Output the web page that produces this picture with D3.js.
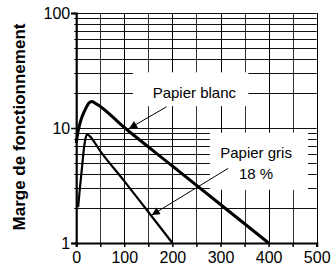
<!DOCTYPE html>
<html>
<head>
<meta charset="utf-8">
<script src="https://cdn.jsdelivr.net/npm/d3@7"></script>
<style>
  body { margin: 0; background: #fff; }
  svg { display: block; }
  .tick-label { font-family: "Liberation Sans Narrow", "Arial Narrow", "Liberation Sans", Arial, sans-serif; font-size: 16px; fill: #000; }
  .note { font-family: "Liberation Sans", Arial, sans-serif; font-size: 15px; fill: #000; }
</style>
</head>
<body>
<div id="chart"></div>
<script>
// data
const xTicks = [0, 100, 200, 300, 400, 500];
const xGrid = [0, 50, 100, 150, 200, 250, 300, 350, 400, 450, 500];
const yTicks = [1, 10, 100];
const yGrid = [1, 2, 3, 4, 5, 6, 7, 8, 9, 10, 20, 30, 40, 50, 60, 70, 80, 90, 100];

const blancX = [0, 2, 5, 10, 15, 20, 25, 32, 40, 100, 200, 300, 400];
const blancY = [7.4, 8.4, 9.8, 11.8, 13.4, 14.8, 16.2, 17, 16.4, 10.1, 4.67, 2.16, 1];

const grisX = [4, 8, 12, 16, 19, 23, 28, 50, 100, 150, 200];
const grisY = [2.05, 3.1, 4.5, 6.6, 8.0, 8.8, 8.5, 6.3, 3.45, 1.86, 1];

// annotation arrows: [fromX, fromY, toX, toY]
const blancArrow = [188, 15.3, 110, 9.9];
const grisArrow = [316, 4.46, 157, 1.75];

const W = 333, H = 270;
const x = d3.scaleLinear().domain([0, 500]).range([76.2, 316.7]);
const y = d3.scaleLog().domain([1, 100]).range([243, 13]);

const svg = d3.select('#chart').append('svg')
    .attr('width', W)
    .attr('height', H);

// grid
svg.append('g')
    .selectAll('line')
    .data(xGrid)
    .join('line')
    .attr('x1', d => Math.round(x(d)) + 0.5)
    .attr('x2', d => Math.round(x(d)) + 0.5)
    .attr('y1', y(100))
    .attr('y2', y(1))
    .attr('stroke', d => d % 100 === 0 ? '#000' : '#333')
    .attr('stroke-width', 1);

svg.append('g')
    .selectAll('line')
    .data(yGrid)
    .join('line')
    .attr('x1', x(0) - 2)
    .attr('x2', x(500))
    .attr('y1', d => Math.round(y(d)) + 0.5)
    .attr('y2', d => Math.round(y(d)) + 0.5)
    .attr('stroke', '#111')
    .attr('stroke-width', 1);

// white boxes behind the labels
const boxes = [
    { x0: 118, x1: 358, y0: 30.5, y1: 15.5 },
    { x0: 278, x1: 482, y0: 9.1, y1: 2.9 }
];
svg.append('g')
    .selectAll('rect')
    .data(boxes)
    .join('rect')
    .attr('x', d => x(d.x0))
    .attr('y', d => y(d.y0))
    .attr('width', d => x(d.x1) - x(d.x0))
    .attr('height', d => y(d.y1) - y(d.y0))
    .attr('fill', '#fff');

// axes
const xAxis = d3.axisBottom(x)
    .tickValues(xGrid)
    .tickSize(4)
    .tickFormat(d => xTicks.includes(d) ? d : '');
const gx = svg.append('g')
    .attr('transform', `translate(0, ${y(1)})`)
    .call(xAxis);
gx.select('.domain').attr('stroke-width', 2.2);
gx.selectAll('.tick line').attr('stroke-width', 1.5);
gx.selectAll('.tick text')
    .attr('class', 'tick-label')
    .attr('y', 9);
gx.attr('font-size', null).attr('font-family', null);

const yAxis = d3.axisLeft(y)
    .tickValues(yTicks)
    .tickSize(5)
    .tickFormat(d3.format('d'));
const gy = svg.append('g')
    .attr('transform', `translate(${x(0)}, 0)`)
    .call(yAxis);
gy.select('.domain').attr('stroke-width', 2.2);
gy.selectAll('.tick line').attr('stroke-width', 1.5);
gy.selectAll('.tick text')
    .attr('class', 'tick-label')
    .attr('x', -6)
    .attr('dy', '0.36em');
gy.attr('font-size', null).attr('font-family', null);

// axis title
svg.append('text')
    .attr('transform', `translate(25, 127) rotate(-90)`)
    .attr('text-anchor', 'middle')
    .style('font-family', '"Liberation Sans", Arial, sans-serif')
    .style('font-size', '17px')
    .style('font-weight', 'bold')
    .text('Marge de fonctionnement');

// curves
const line = d3.line()
    .x(d => x(d[0]))
    .y(d => y(d[1]))
    .curve(d3.curveMonotoneX);

svg.append('path')
    .datum(blancX.map((v, i) => [v, blancY[i]]))
    .attr('d', line)
    .attr('fill', 'none')
    .attr('stroke', '#000')
    .attr('stroke-width', 3);

svg.append('path')
    .datum(grisX.map((v, i) => [v, grisY[i]]))
    .attr('d', line)
    .attr('fill', 'none')
    .attr('stroke', '#000')
    .attr('stroke-width', 2.2);

// arrows
svg.append('defs').append('marker')
    .attr('id', 'head')
    .attr('viewBox', '0 0 10 10')
    .attr('refX', 10)
    .attr('refY', 5)
    .attr('markerWidth', 11)
    .attr('markerHeight', 8)
    .attr('markerUnits', 'userSpaceOnUse')
    .attr('orient', 'auto')
    .append('path')
    .attr('d', 'M0,0 L10,5 L0,10 Z')
    .attr('fill', '#000');

svg.append('g')
    .selectAll('line')
    .data([blancArrow, grisArrow])
    .join('line')
    .attr('x1', d => x(d[0]))
    .attr('y1', d => y(d[1]))
    .attr('x2', d => x(d[2]))
    .attr('y2', d => y(d[3]))
    .attr('stroke', '#000')
    .attr('stroke-width', 1)
    .attr('marker-end', 'url(#head)');

// labels
svg.append('text')
    .attr('class', 'note')
    .attr('x', x(159))
    .attr('y', y(18.1))
    .text('Papier blanc');

const gris = svg.append('text')
    .attr('class', 'note')
    .attr('text-anchor', 'middle');
gris.append('tspan')
    .attr('x', x(374))
    .attr('y', y(5.45))
    .text('Papier gris');
gris.append('tspan')
    .attr('x', x(374))
    .attr('y', y(3.6))
    .text('18 %');
</script>
</body>
</html>
